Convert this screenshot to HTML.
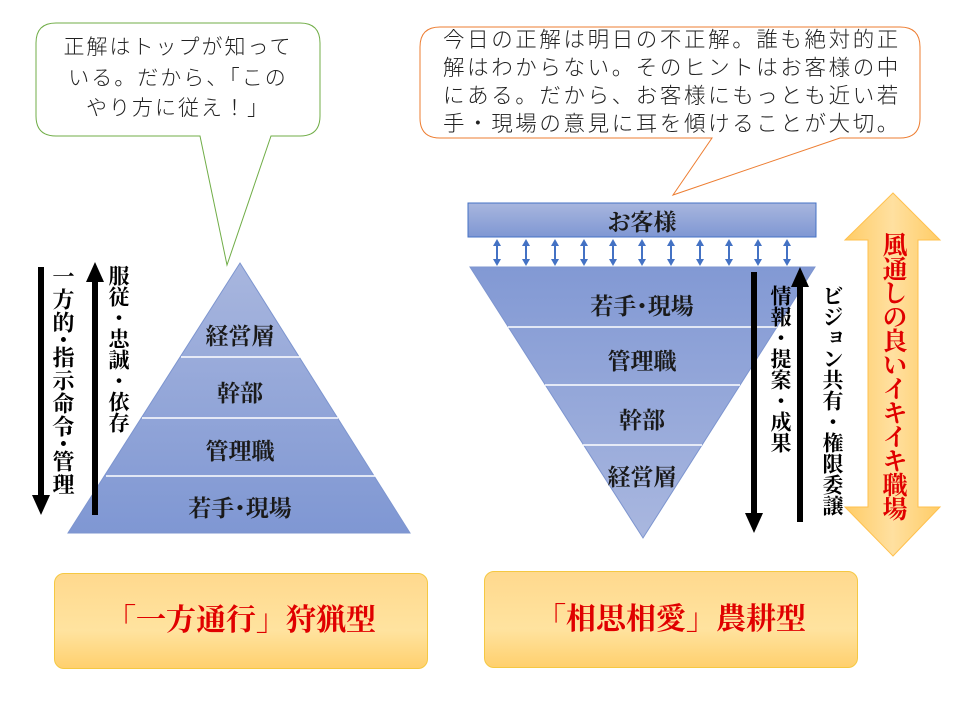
<!DOCTYPE html>
<html><head><meta charset="utf-8"><style>
body{margin:0;width:960px;height:720px;background:#fff;position:relative;overflow:hidden;font-family:"Liberation Serif","Noto Serif CJK JP",serif}
.v{position:absolute;writing-mode:vertical-rl;font-weight:bold;line-height:1;white-space:nowrap}
.c{position:absolute;font-family:"Liberation Sans","Noto Sans CJK JP",sans-serif;font-weight:300;color:#222}
.lab{position:absolute;font-weight:bold;font-size:23px;color:#1a1a1a;text-align:center;width:200px}
.box{position:absolute;border:1px solid #f5c842;border-radius:10px;background:linear-gradient(#ffd98e,#ffe39f 60%,#ffd06e);color:#e00000;font-weight:bold;font-size:30px;text-align:center}
</style></head><body>
<svg width="960" height="720" style="position:absolute;left:0;top:0">
<defs>
<linearGradient id="b" x1="0" y1="0" x2="0" y2="1"><stop offset="0" stop-color="#a8b6de"/><stop offset="1" stop-color="#7f97d3"/></linearGradient>
<linearGradient id="b2" x1="0" y1="0" x2="0" y2="1"><stop offset="0" stop-color="#8299d4"/><stop offset="1" stop-color="#a9b7df"/></linearGradient>
<linearGradient id="o" x1="0" y1="0" x2="1" y2="0"><stop offset="0" stop-color="#ffcc66"/><stop offset="0.5" stop-color="#ffe0a0"/><stop offset="1" stop-color="#ffcc66"/></linearGradient>
</defs>
<path d="M56,23 H300 Q320,23 320,43 V116 Q320,136 300,136 H271 L227,265 L200,136 H56 Q36,136 36,116 V43 Q36,23 56,23 Z" fill="#fff" stroke="#70ad47" stroke-width="1"/>
<path d="M440,27 H900 Q920,27 920,47 V118 Q920,138 900,138 H840 L673,195 L712,138 H440 Q420,138 420,118 V47 Q420,27 440,27 Z" fill="#fff" stroke="#ed7d31" stroke-width="1"/>
<polygon points="240,263 410,533 68,533" fill="url(#b)" stroke="#7d95cf" stroke-width="1"/>
<line x1="181" y1="357" x2="300" y2="357" stroke="#fff" stroke-width="1.5"/>
<line x1="142" y1="418" x2="338" y2="418" stroke="#fff" stroke-width="1.5"/>
<line x1="106" y1="476" x2="375" y2="476" stroke="#fff" stroke-width="1.5"/>
<line x1="41" y1="267" x2="41" y2="497" stroke="#000" stroke-width="6"/>
<polygon points="32,495 50,495 41,515" fill="#000"/>
<line x1="95" y1="280" x2="95" y2="515" stroke="#000" stroke-width="6"/>
<polygon points="86,282 104,282 95,262" fill="#000"/>
<rect x="468" y="203" width="348" height="34" fill="url(#b)" stroke="#4472c4" stroke-width="1"/>
<g stroke="#4472c4" stroke-width="2" fill="#4472c4">
<g id="da"><line x1="497" y1="244" x2="497" y2="261"/><polygon points="493,246 501,246 497,239" stroke="none"/><polygon points="493,259 501,259 497,266" stroke="none"/></g>
<use href="#da" x="29"/><use href="#da" x="58"/><use href="#da" x="87"/><use href="#da" x="116"/><use href="#da" x="145"/><use href="#da" x="174"/><use href="#da" x="203"/><use href="#da" x="232"/><use href="#da" x="261"/><use href="#da" x="290"/>
</g>
<polygon points="470,267 815,267 643,538" fill="url(#b2)" stroke="#7d95cf" stroke-width="1"/>
<line x1="508" y1="327" x2="777" y2="327" stroke="#fff" stroke-width="1.5"/>
<line x1="545" y1="385" x2="740" y2="385" stroke="#fff" stroke-width="1.5"/>
<line x1="583" y1="445" x2="702" y2="445" stroke="#fff" stroke-width="1.5"/>
<line x1="754" y1="272" x2="754" y2="515" stroke="#000" stroke-width="6"/>
<polygon points="745,513 763,513 754,533" fill="#000"/>
<line x1="800" y1="285" x2="800" y2="522" stroke="#000" stroke-width="6"/>
<polygon points="791,287 809,287 800,267" fill="#000"/>
<polygon points="893,193 940,240 918,240 918,507 940,507 893,556 845,507 868,507 868,240 845,240" fill="url(#o)" stroke="#ffc04d" stroke-width="1"/>
</svg>
<div class="c" style="left:36px;top:33px;width:284px;text-align:center;font-size:21px;line-height:30.5px;letter-spacing:2px">正解はトップが知って<br>いる。だから、「この<br>やり方に従え！」</div>
<div class="c" style="left:443px;top:26px;width:480px;font-size:21.5px;line-height:28px;letter-spacing:2.6px">今日の正解は明日の不正解。誰も絶対的正<br>解はわからない。そのヒントはお客様の中<br>にある。だから、お客様にもっとも近い若<br>手・現場の意見に耳を傾けることが大切。</div>
<div class="lab" style="left:140px;top:318px">経営層</div>
<div class="lab" style="left:140px;top:375px">幹部</div>
<div class="lab" style="left:140px;top:433px">管理職</div>
<div class="lab" style="left:140px;top:490px">若手･現場</div>
<div class="lab" style="left:542px;top:204px">お客様</div>
<div class="lab" style="left:542px;top:288px">若手･現場</div>
<div class="lab" style="left:542px;top:343px">管理職</div>
<div class="lab" style="left:542px;top:402px">幹部</div>
<div class="lab" style="left:542px;top:459px">経営層</div>
<div class="v" style="left:51px;top:265px;font-size:22px;letter-spacing:1px">一方的･指示命令･管理</div>
<div class="v" style="left:107px;top:265px;font-size:21px">服従・忠誠・依存</div>
<div class="v" style="left:769px;top:285px;font-size:21px">情報・提案・成果</div>
<div class="v" style="left:821px;top:285px;font-size:21px">ビジョン共有・権限委譲</div>
<div class="v" style="left:880px;top:232px;font-size:25px;color:#e00000;letter-spacing:-1px">風通しの良いイキイキ職場</div>
<div class="box" style="left:54px;top:573px;width:372px;height:94px;line-height:94px">「一方通行」狩猟型</div>
<div class="box" style="left:484px;top:571px;width:372px;height:95px;line-height:95px">「相思相愛」農耕型</div>
</body></html>
